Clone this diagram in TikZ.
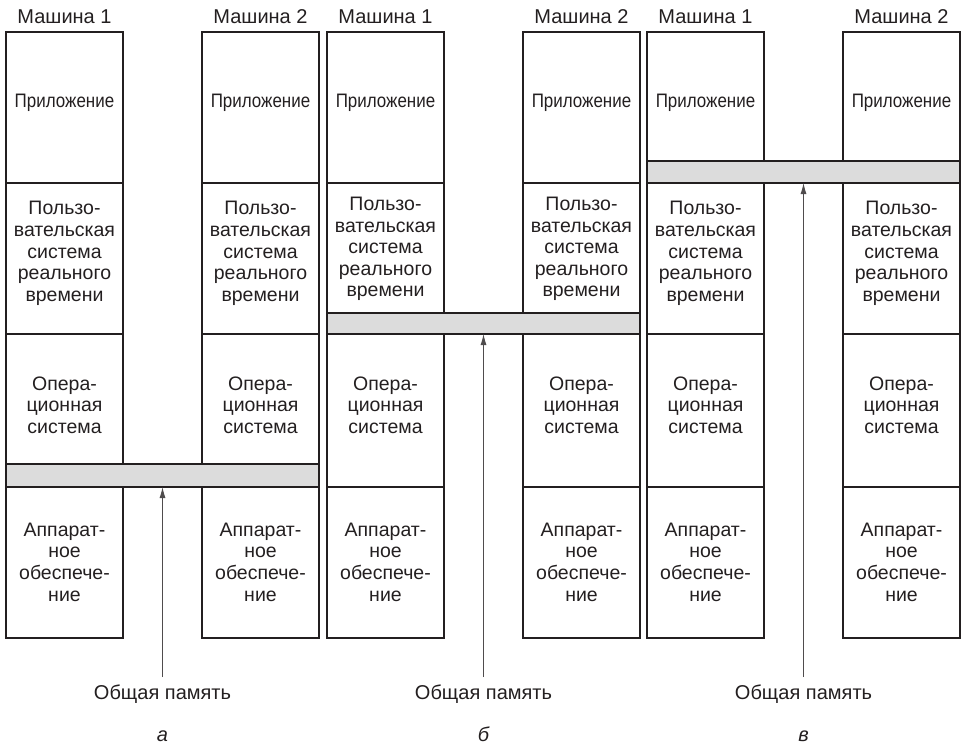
\documentclass[tikz,border=0pt]{standalone}
\usepackage{fontspec}
\setmainfont{Liberation Sans}
\usetikzlibrary{arrows.meta}
\definecolor{ink}{HTML}{231F20}
\definecolor{barfill}{HTML}{DCDCDC}
\tikzset{
  cell/.style={draw=ink, line width=1.3pt, minimum width=117pt, inner sep=0pt, outer sep=0pt},
  shbar/.style={draw=ink, line width=1.3pt, fill=barfill, minimum width=313pt, inner sep=0pt, outer sep=0pt},
  txt/.style={text=ink, align=center, inner sep=0pt, font=\fontsize{19.5}{21.6}\selectfont},
  ttl/.style={text=ink, anchor=base, inner sep=0pt, font=\fontsize{20}{22}\selectfont},
  memarrow/.style={draw=ink!80, line width=0.8pt, -{Latex[length=11pt,width=6pt]}}
}
\begin{document}
\begin{tikzpicture}[x=1pt,y=-1pt]
\useasboundingbox (0,0) rectangle (962,745);
% ---------------- panel a (X=6)
\node[ttl] (a1t) at (64.5,23) {Машина 1};
\node[ttl] (a2t) at (260.5,23) {Машина 2};
\node[cell, minimum height=151pt] (a1app) at (64.5,107.5) {};
\node[cell, minimum height=151pt] (a1usr) at (64.5,258.5) {};
\node[cell, minimum height=130pt] (a1os)  at (64.5,399) {};
\node[cell, minimum height=151pt] (a1hw)  at (64.5,562.5) {};
\node[cell, minimum height=151pt] (a2app) at (260.5,107.5) {};
\node[cell, minimum height=151pt] (a2usr) at (260.5,258.5) {};
\node[cell, minimum height=130pt] (a2os)  at (260.5,399) {};
\node[cell, minimum height=151pt] (a2hw)  at (260.5,562.5) {};
\node[shbar, minimum height=23pt] (abar) at (162.5,475.5) {};
% ---------------- panel b (X=327)
\node[ttl] (b1t) at (385.5,23) {Машина 1};
\node[ttl] (b2t) at (581.5,23) {Машина 2};
\node[cell, minimum height=151pt] (b1app) at (385.5,107.5) {};
\node[cell, minimum height=130pt] (b1usr) at (385.5,248) {};
\node[cell, minimum height=153pt] (b1os)  at (385.5,410.5) {};
\node[cell, minimum height=151pt] (b1hw)  at (385.5,562.5) {};
\node[cell, minimum height=151pt] (b2app) at (581.5,107.5) {};
\node[cell, minimum height=130pt] (b2usr) at (581.5,248) {};
\node[cell, minimum height=153pt] (b2os)  at (581.5,410.5) {};
\node[cell, minimum height=151pt] (b2hw)  at (581.5,562.5) {};
\node[shbar, minimum height=21pt] (bbar) at (483.5,323.5) {};
% ---------------- panel c (X=647)
\node[ttl] (c1t) at (705.5,23) {Машина 1};
\node[ttl] (c2t) at (901.5,23) {Машина 2};
\node[cell, minimum height=129pt] (c1app) at (705.5,96.5) {};
\node[cell, minimum height=151pt] (c1usr) at (705.5,258.5) {};
\node[cell, minimum height=153pt] (c1os)  at (705.5,410.5) {};
\node[cell, minimum height=151pt] (c1hw)  at (705.5,562.5) {};
\node[cell, minimum height=129pt] (c2app) at (901.5,96.5) {};
\node[cell, minimum height=151pt] (c2usr) at (901.5,258.5) {};
\node[cell, minimum height=153pt] (c2os)  at (901.5,410.5) {};
\node[cell, minimum height=151pt] (c2hw)  at (901.5,562.5) {};
\node[shbar, minimum height=22pt] (cbar) at (803.5,172) {};
% ---------------- texts
\foreach \cx/\n in {64.5/a1,260.5/a2,385.5/b1,581.5/b2,705.5/c1,901.5/c2}{
  \node[txt] (\n apptx) at (\cx,103) {\scalebox{0.87}[1]{Приложение}};
  \node[txt] (\n ostx)  at (\cx,405) {Опера-\\ционная\\система};
  \node[txt] (\n hwtx)  at (\cx,562) {Аппарат-\\ное\\обеспече-\\ние};
}
\foreach \cx/\n/\cy in {64.5/a1/253.5,260.5/a2/253.5,385.5/b1/249,581.5/b2/249,705.5/c1/253.5,901.5/c2/253.5}{
  \node[txt] (\n usrtx) at (\cx,\cy) {Пользо-\\вательская\\система\\реального\\времени};
}
% ---------------- shared memory labels and arrows
\foreach \p/\cx/\lt in {a/162.5/а,b/483.5/б,c/803.5/в}{
  \coordinate (\p start) at (\cx,677);
  \node[ttl] (\p mem) at (\cx,699) {Общая память};
  \node[ttl, font=\fontsize{20}{22}\selectfont\itshape] (\p let) at (\cx,741) {\lt};
  \draw[memarrow] (\p start) -- (\p bar.south);
}
\end{tikzpicture}
\end{document}
